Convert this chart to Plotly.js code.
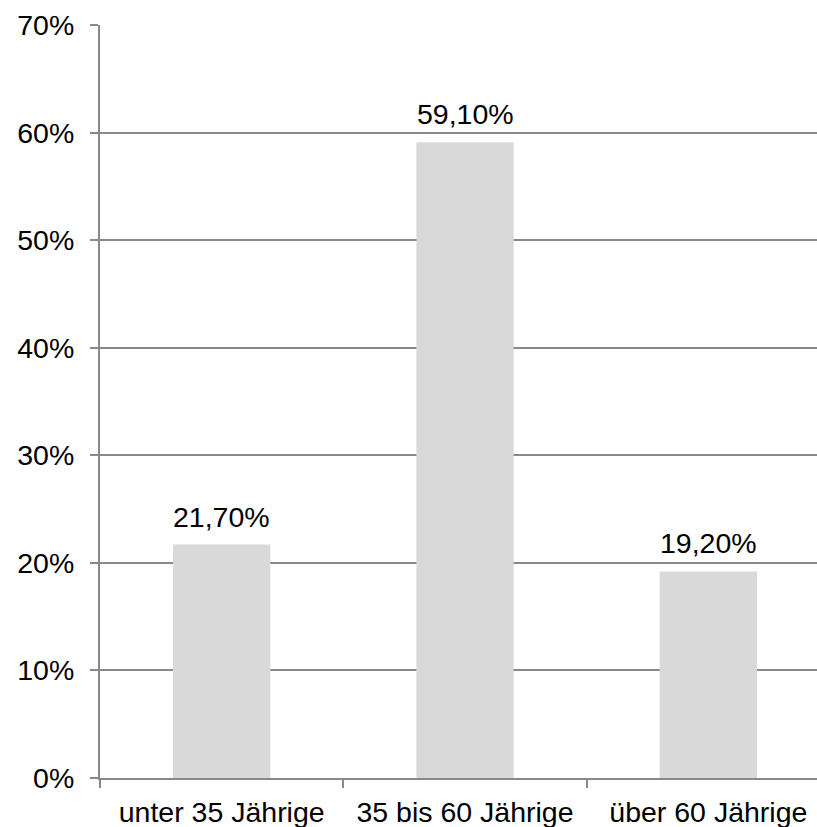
<!DOCTYPE html>
<html>
<head>
<meta charset="utf-8">
<script src="https://cdn.plot.ly/plotly-3.0.1.min.js"></script>
<style>
html,body{margin:0;padding:0;overflow:hidden;background:#fff;width:817px;height:827px;}
#chart{width:830px;height:827px;}
</style>
</head>
<body>
<div id="chart"></div>
<script>
const categories = ["unter 35 Jährige", "35 bis 60 Jährige", "über 60 Jährige"];
const values = [21.7, 59.1, 19.2];
const tickValues = [0, 10, 20, 30, 40, 50, 60, 70];

const fontFamily = "Liberation Sans, Arial, sans-serif";
const gridColor = "#898989";
const fontSize = 28.5;

const trace = {
  type: "bar",
  x: categories,
  y: values,
  marker: {color: "#d9d9d9"},
  hoverinfo: "none"
};

const annotations = categories.map((c, i) => ({
  x: c,
  y: values[i],
  text: values[i].toFixed(2).replace(".", ",") + "%",
  showarrow: false,
  yanchor: "bottom",
  yshift: 10,
  font: {family: fontFamily, size: fontSize, color: "#000"}
}));

const layout = {
  width: 830,
  height: 827,
  margin: {l: 100, r: 0, t: 25, b: 49},
  paper_bgcolor: "#fff",
  plot_bgcolor: "#fff",
  showlegend: false,
  bargap: 0.6,
  font: {family: fontFamily, size: fontSize, color: "#000"},
  xaxis: {
    type: "category",
    showline: true,
    linecolor: gridColor,
    linewidth: 2,
    ticks: "outside",
    tickson: "boundaries",
    ticklen: 8,
    tickcolor: gridColor,
    tickwidth: 2,
    showgrid: false,
    ticklabelstandoff: 8,
    tickfont: {family: fontFamily, size: fontSize, color: "#000"}
  },
  yaxis: {
    range: [0, 70],
    tickvals: tickValues,
    ticktext: tickValues.map(v => v + "%"),
    showline: true,
    linecolor: gridColor,
    linewidth: 2,
    ticks: "outside",
    ticklen: 8,
    tickcolor: gridColor,
    tickwidth: 2,
    showgrid: true,
    gridcolor: gridColor,
    gridwidth: 2,
    zeroline: false,
    ticklabelstandoff: 10,
    tickfont: {family: fontFamily, size: fontSize, color: "#000"}
  },
  annotations: annotations
};

Plotly.newPlot("chart", [trace], layout, {staticPlot: true, displayModeBar: false});
</script>
</body>
</html>
